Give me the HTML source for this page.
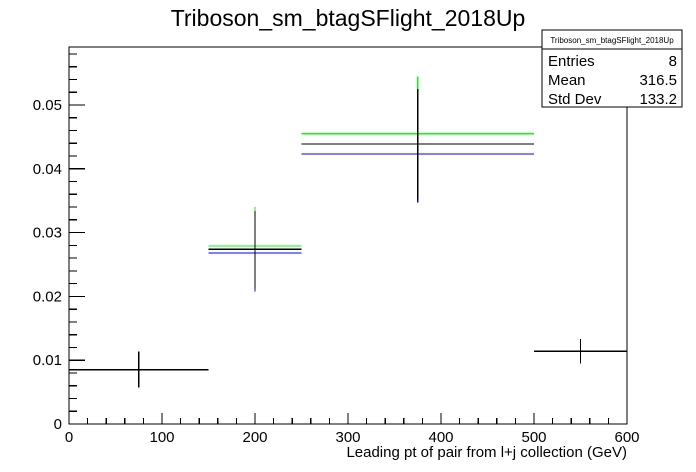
<!DOCTYPE html>
<html><head><meta charset="utf-8"><style>body{margin:0;background:#fff}svg{display:block;font-family:"Liberation Sans",sans-serif}</style></head>
<body>
<svg id="c" width="696" height="472" viewBox="0 0 696 472" shape-rendering="crispEdges">
<rect width="696" height="472" fill="#fff"/>
<text x="348" y="26" font-size="23" text-anchor="middle">Triboson_sm_btagSFlight_2018Up</text>
<rect x="69" y="47" width="558" height="377" fill="none" stroke="#000" stroke-width="1"/>
<g id="ax"></g>
<g id="marks"></g>
<text x="627" y="457" font-size="15" text-anchor="end">Leading pt of pair from l+j collection (GeV)</text>
<g>
<rect x="542" y="30" width="140" height="77" fill="#fff" stroke="#000"/>
<line x1="542" y1="49" x2="682" y2="49" stroke="#000"/>
<text x="612" y="43" font-size="8" text-anchor="middle">Triboson_sm_btagSFlight_2018Up</text>
<text x="548" y="66" font-size="15">Entries</text><text x="677" y="66" font-size="15" text-anchor="end">8</text>
<text x="548" y="85" font-size="15">Mean</text><text x="677" y="85" font-size="15" text-anchor="end">316.5</text>
<text x="548" y="104" font-size="15">Std Dev</text><text x="677" y="104" font-size="15" text-anchor="end">133.2</text>
</g>
</svg>
<script>
const binEdges=[0,150,250,500,600];
const nominal=[0.0085,0.0274,0.0439,0.0114];
const errLow=[0.0057,0.0212,0.0352,0.0095];
const errHigh=[0.0114,0.0334,0.0525,0.0133];
const upBins=[1,2];
const upVals=[0.0279,0.0455];
const upErrHigh=[0.0340,0.0545];
const downVals=[0.0268,0.0423];
const downErrLow=[0.0208,0.0347];
const xTicks=[0,100,200,300,400,500,600];
const yTicks=[0,0.01,0.02,0.03,0.04,0.05];
const yTickLabels=["0","0.01","0.02","0.03","0.04","0.05"];
const X=v=>69+v*558/600;
const Y=v=>424-v*6380;
const NS="http://www.w3.org/2000/svg";
function ln(g,x1,y1,x2,y2,c,name){const l=document.createElementNS(NS,'line');
l.setAttribute('x1',x1);l.setAttribute('y1',y1);l.setAttribute('x2',x2);l.setAttribute('y2',y2);
l.setAttribute('stroke',c);l.setAttribute('stroke-width',1.2);


g.appendChild(l);return l;}
function tx(g,x,y,s,anchor,name){const t=document.createElementNS(NS,'text');
t.setAttribute('x',x);t.setAttribute('y',y);t.setAttribute('font-size',15);t.setAttribute('text-anchor',anchor);t.textContent=s;


g.appendChild(t);}
const ax=document.getElementById('ax');
for(let v=0;v<=600;v+=20){const maj=v%100===0;ln(ax,X(v),424,X(v),424-(maj?11:6),'#000','x-tick');}
xTicks.forEach(v=>tx(ax,X(v),442,String(v),'middle','x-tick-label'));
for(let i=0;i<=29;i++){const v=i*0.002;if(Y(v)<47)break;const maj=i%5===0;ln(ax,69,Y(v),69+(maj?16:8),Y(v),'#000','y-tick');}
yTicks.forEach((v,i)=>tx(ax,62,Y(v)+5,yTickLabels[i],'end','y-tick-label'));
const m=document.getElementById('marks');
upBins.forEach((b,i)=>{const c=(binEdges[b]+binEdges[b+1])/2;
ln(m,X(c),Y(upErrHigh[i]),X(c),Y(errHigh[b]),'#00ff00','up-error-bar');
ln(m,X(c),Y(errLow[b]),X(c),Y(downErrLow[i]),'#0000ff','down-error-bar');
ln(m,X(binEdges[b]),Y(upVals[i]),X(binEdges[b+1]),Y(upVals[i]),'#00ff00','up-variation-bin');
ln(m,X(binEdges[b]),Y(downVals[i]),X(binEdges[b+1]),Y(downVals[i]),'#0000ff','down-variation-bin');});
nominal.forEach((v,i)=>{const c=(binEdges[i]+binEdges[i+1])/2;
ln(m,X(binEdges[i]),Y(v),X(binEdges[i+1]),Y(v),'#000','nominal-bin');
ln(m,X(c),Y(errLow[i]),X(c),Y(errHigh[i]),'#000','nominal-error-bar');});
</script>
</body></html>
